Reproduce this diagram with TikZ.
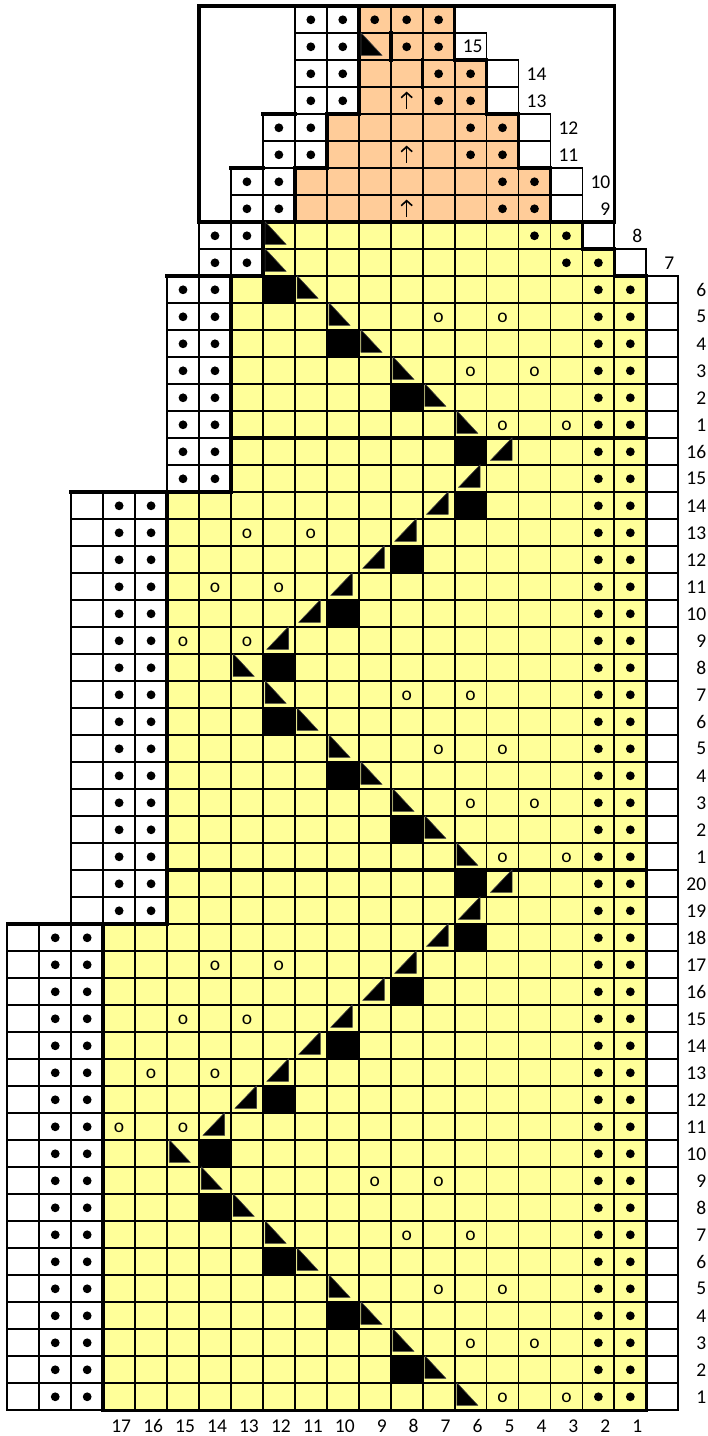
\documentclass[tikz,border=0pt]{standalone}
\usepackage{fontspec}
\setmainfont{Carlito}
\usepackage{tikz}
\usetikzlibrary{arrows.meta}
\definecolor{chartyellow}{HTML}{FFFF99}
\definecolor{chartpeach}{HTML}{FFCC99}

\begin{document}
\begin{tikzpicture}[x=31.95pt, y=27pt,
  gridline/.style={line width=1.8pt, line cap=rect},
  heavy/.style={line width=3.6pt, line cap=rect, line join=miter},
  wedge/.style={fill=black, draw=black!75, line width=0.6pt, line join=round},
  lbl/.style={font=\fontsize{19.5}{20}\selectfont, inner sep=0pt}]
\fill[white] (-7.3pt,-25.7pt) rectangle (700.7pt,1410.3pt);
\useasboundingbox (-7.3pt,-25.7pt) rectangle (700.7pt,1410.3pt);

\fill[chartyellow] (3,0) -- (20,0) -- (20,42) -- (19,42) -- (19,43) -- (18,43) -- (18,44)
  -- (8,44) -- (8,42) -- (7,42) -- (7,34) -- (5,34) -- (5,18) -- (3,18) -- cycle;
\fill[chartpeach] (9,44) -- (17,44) -- (17,46) -- (16,46) -- (16,48) -- (15,48) -- (15,50)
  -- (14,50) -- (14,52) -- (11,52) -- (11,48) -- (10,48) -- (10,46) -- (9,46) -- cycle;

\foreach \c/\r in {8/1,10/3,12/5,14/7,14/9,12/11,10/13,8/15,6/17,6/19,
                   8/21,10/23,12/25,12/27,10/29,8/31,6/33,6/35,8/37,10/39,12/41}
  \fill (20-\c,\r) rectangle ++(1,1);

\foreach \ra/\rb/\ka/\kb/\L/\R in {0/17/0/21/1/18, 18/33/2/21/3/18, 34/41/5/21/5/18,
    42/42/6/20/6/17, 43/43/6/19/6/16, 44/45/7/18/7/15, 46/47/8/17/8/14,
    48/49/9/16/9/13, 50/50/9/15/9/12, 51/51/9/14/9/12} {
  \foreach \r in {\ra,...,\rb} {
    \draw[gridline] (\ka,\r) -- (\kb,\r) (\ka,\r+1) -- (\kb,\r+1);
    \foreach \k in {\ka,...,\kb}
      \draw[gridline] (\k,\r) -- (\k,\r+1);
    \fill (\L+0.5,\r+0.5) circle (4.4pt) (\L+1.5,\r+0.5) circle (4.4pt);
    \fill (\R+0.5,\r+0.5) circle (4.4pt) (\R+1.5,\r+0.5) circle (4.4pt);
  }
}
\fill (11.5,51.5) circle (4.4pt);

\draw[heavy] (3,0) -- (20,0) -- (20,42) -- (19,42) -- (19,43) -- (18,43) -- (18,44) -- (17,44)
  -- (17,46) -- (16,46) -- (16,48) -- (15,48) -- (15,50) -- (14,50) -- (14,52) -- (11,52)
  -- (11,48) -- (10,48) -- (10,46) -- (9,46) -- (9,44) -- (8,44) -- (8,42) -- (7,42)
  -- (7,34) -- (5,34) -- (5,18) -- (3,18) -- cycle;
\draw[heavy] (5,20) -- (20,20) (7,36) -- (20,36);
\draw[heavy] (0,18) -- (3,18) (2,34) -- (5,34) (5,42) -- (7,42) (7,46) -- (8,46) (8,48) -- (9,48);
\draw[heavy] (13,49) -- (13,50) (12,50) -- (12,51);
\draw[heavy] (6,44) rectangle (19,52);

\foreach \c/\r in {6/0,7/1,8/2,9/3,10/4,11/5,12/6,13/7,14/8,15/9,
                   6/20,7/21,8/22,9/23,10/24,11/25,12/26,13/27,
                   6/36,7/37,8/38,9/39,10/40,11/41,12/42,12/43,9/50}
  \filldraw[wedge] (20.07-\c,\r+1.02) -- (20.07-\c,\r+0.18) -- (20.73-\c,\r+0.18) -- cycle;
\foreach \c/\r in {14/10,13/11,12/12,11/13,10/14,9/15,8/16,7/17,6/18,5/19,
                   12/28,11/29,10/30,9/31,8/32,7/33,6/34,5/35}
  \filldraw[wedge] (20.8-\c,\r+1.02) -- (20.8-\c,\r+0.18) -- (20.12-\c,\r+0.18) -- cycle;

\foreach \c/\r in {5/0,3/0,6/2,4/2,7/4,5/4,8/6,6/6,9/8,7/8,17/10,15/10,16/12,14/12,
                   15/14,13/14,14/16,12/16,5/20,3/20,6/22,4/22,7/24,5/24,8/26,6/26,
                   15/28,13/28,14/30,12/30,13/32,11/32,5/36,3/36,6/38,4/38,7/40,5/40}
  \node[lbl] (o-\c-\r) at (20.5-\c,\r+0.45) {o};

\foreach \r in {44,46,48}
  \draw[line width=1.6pt, -{Straight Barb[length=5pt,width=11pt]}] (12.5,\r+0.2) -- (12.5,\r+0.84);

\foreach \n in {1,...,20}
  \node[lbl, anchor=east] (rowB-\n) at (21.88,\n-0.5) {\n};
\foreach \n in {1,...,16}
  \node[lbl, anchor=east] (rowM-\n) at (21.88,\n+19.5) {\n};
\foreach \n in {1,...,6}
  \node[lbl, anchor=east] (rowT-\n) at (21.88,\n+35.5) {\n};
\foreach \n/\x in {7/20.88,8/19.88,9/18.88,10/18.88,11/17.88,12/17.88,13/16.88,14/16.88,15/14.88}
  \node[lbl, anchor=east] (rowT-\n) at (\x,\n+35.5) {\n};
\foreach \c in {1,...,17}
  \node[lbl, anchor=east] (col-\c) at (20.88-\c,-0.58) {\c};
\end{tikzpicture}
\end{document}
